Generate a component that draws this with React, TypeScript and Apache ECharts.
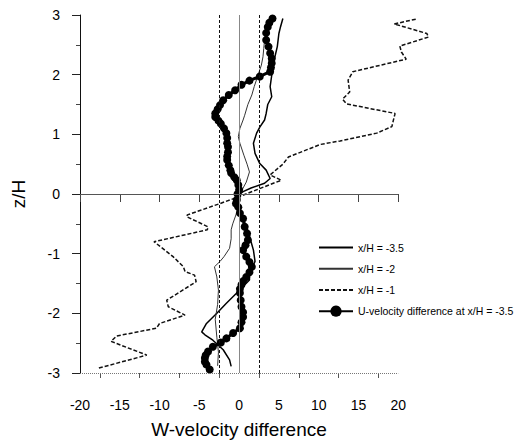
import React, { useEffect, useRef } from "react";
import * as echarts from "echarts";

// x/H = -3.5 (solid)
const zA = [2.94, 2.80, 2.69, 2.58, 2.47, 2.30, 2.15, 1.99, 1.80, 1.63, 1.50, 1.35, 1.24, 1.12, 1.02, 0.85, 0.68, 0.51, 0.40, 0.26, 0.18, 0.10, 0.04, -0.02, -0.10, -0.25, -0.45, -0.65, -0.80, -0.94, -1.13, -1.33, -1.44, -1.55, -1.66, -1.83, -2.00, -2.17, -2.31, -2.36, -2.45, -2.61, -2.78, -2.89];
const wA = [5.5, 5.2, 5.0, 4.9, 4.8, 4.5, 4.3, 4.1, 3.9, 4.1, 3.6, 3.4, 3.2, 2.6, 2.2, 1.8, 2.0, 2.6, 3.4, 3.9, 3.2, 1.5, 0.5, -0.1, -0.2, 0.0, 0.6, 1.2, 1.5, 1.8, 2.0, 1.3, 1.3, 0.5, -0.3, -1.6, -2.8, -4.1, -4.7, -4.3, -3.3, -2.0, -1.2, -1.0];

// x/H = -2 (thin solid)
const zB = [2.90, 2.72, 2.58, 2.44, 2.30, 2.16, 2.00, 1.80, 1.66, 1.50, 1.32, 1.24, 1.10, 0.96, 0.85, 0.65, 0.50, 0.37, 0.20, 0.05, -0.15, -0.35, -0.50, -0.60, -0.75, -0.91, -1.05, -1.13, -1.22, -1.39, -1.61, -1.85, -2.10, -2.40, -2.65, -2.88];
const wB = [3.8, 3.5, 3.2, 3.1, 3.0, 2.8, 2.4, 1.9, 1.6, 1.1, 0.7, 0.5, 0.1, -0.1, 0.1, 0.6, 1.0, 1.3, 0.9, 0.3, 0.0, -0.4, -0.8, -1.0, -1.0, -1.2, -1.9, -2.4, -3.1, -2.8, -2.6, -2.7, -3.0, -2.8, -2.6, -2.7];

// x/H = -1 (dashed)
const zC = [2.93, 2.85, 2.69, 2.63, 2.48, 2.38, 2.26, 2.05, 1.91, 1.71, 1.59, 1.51, 1.35, 1.13, 1.02, 0.89, 0.83, 0.62, 0.50, 0.32, 0.23, 0.18, -0.04, -0.16, -0.35, -0.38, -0.55, -0.60, -0.80, -0.83, -1.05, -1.22, -1.30, -1.36, -1.47, -1.78, -1.89, -2.03, -2.17, -2.25, -2.38, -2.47, -2.70, -2.92];
const wC = [22.2, 19.5, 23.6, 23.8, 20.2, 20.4, 21.0, 14.3, 13.7, 13.9, 13.0, 13.5, 19.6, 19.2, 17.3, 12.7, 10.2, 6.2, 5.5, 3.9, 5.3, 4.3, 0.1, -2.4, -6.5, -6.6, -3.9, -4.0, -10.7, -10.4, -8.3, -7.0, -6.8, -5.6, -5.4, -9.1, -8.9, -6.8, -10.0, -10.4, -15.4, -16.1, -11.6, -17.7];

// U-velocity difference at x/H = -3.5 (thick dotted)
const zU = [2.94, 2.87, 2.80, 2.70, 2.58, 2.47, 2.36, 2.27, 2.19, 2.12, 2.05, 1.97, 1.90, 1.83, 1.74, 1.66, 1.57, 1.49, 1.42, 1.35, 1.29, 1.23, 1.18, 1.10, 1.02, 0.94, 0.85, 0.79, 0.70, 0.63, 0.57, 0.48, 0.40, 0.35, 0.28, 0.23, 0.15, 0.07, 0.0, -0.10, -0.16, -0.22, -0.32, -0.41, -0.55, -0.66, -0.77, -0.86, -0.94, -1.05, -1.14, -1.22, -1.31, -1.39, -1.46, -1.52, -1.59, -1.66, -1.78, -1.89, -1.98, -2.06, -2.15, -2.25, -2.33, -2.42, -2.49, -2.56, -2.64, -2.70, -2.75, -2.81, -2.86, -2.94];
const wU = [4.2, 3.8, 3.6, 3.4, 3.4, 3.7, 3.9, 4.1, 4.1, 4.0, 3.9, 2.6, 1.3, 0.3, -0.5, -1.3, -2.0, -2.4, -2.7, -3.0, -3.0, -2.6, -2.3, -1.9, -1.6, -1.5, -1.5, -1.4, -1.4, -1.5, -1.5, -1.3, -1.1, -1.0, -0.6, -0.3, -0.1, 0.0, -0.2, -0.3, -0.4, -0.1, 0.1, 0.5, 0.7, 1.0, 1.1, 0.8, 0.5, 0.9, 1.3, 1.6, 1.3, 0.9, 0.5, 0.3, 0.1, 0.1, 0.2, 0.3, 0.5, 0.5, 0.3, 0.1, -0.75, -1.6, -2.3, -3.3, -3.9, -4.2, -4.3, -4.3, -4.1, -3.7];

const names = ["x/H = -3.5", "x/H = -2", "x/H = -1", "U-velocity difference at x/H = -3.5"];
const xMajorTicks = [-20, -15, -10, -5, 0, 5, 10, 15, 20];
const xMinorTicks = [-17.5, -12.5, -7.5, -2.5, 2.5, 7.5, 12.5, 17.5];
const xRange = { min: -20, max: 25 }; // room on the right for the x/H=-1 excursion past 20
const yTicks = { min: -3, max: 3, interval: 1 };
const refLinesX = [-2.5, 2.5];

const pairs = (w: number[], z: number[]) => w.map((v, i) => [v, z[i]]);

const FONT = "'Liberation Sans', Arial, sans-serif";

export default function App() {
  const ref = useRef<HTMLDivElement>(null);
  useEffect(() => {
    document.body.style.margin = "0";
    if (!ref.current) return;
    const chart = echarts.init(ref.current, undefined, { renderer: "svg" });
    const clear = "rgba(0,0,0,0)";
    const xFirst = xMajorTicks[0];
    const xLast = xMajorTicks[xMajorTicks.length - 1];
    chart.setOption({
      animation: false,
      backgroundColor: "#fff",
      textStyle: { fontFamily: FONT, color: "#000" },
      grid: { left: 80, right: 90, top: 15, bottom: 74 },
      legend: {
        data: names,
        orient: "vertical",
        left: 318,
        top: 242,
        itemWidth: 34,
        itemHeight: 14,
        itemGap: 10,
        padding: 0,
        textStyle: { fontSize: 10.5, color: "#000", fontFamily: FONT },
      },
      xAxis: [
        {
          type: "value",
          min: xRange.min,
          max: xRange.max,
          interval: 5,
          name: "W-velocity difference",
          nameLocation: "middle",
          nameGap: 47,
          nameTextStyle: { fontSize: 19, color: "#000", fontFamily: FONT, padding: [0, 40, 0, 0] },
          splitLine: { show: false },
          axisLine: { show: false },
          axisTick: { show: true, inside: false, length: 8, customValues: xMajorTicks, lineStyle: { color: "#444" } },
          axisLabel: { fontSize: 14, color: "#000", margin: 25, fontFamily: FONT, customValues: xMajorTicks },
        },
        {
          type: "value",
          min: xRange.min,
          max: xRange.max,
          interval: 5,
          position: "bottom",
          splitLine: { show: false },
          axisLine: { show: false },
          axisTick: { show: true, inside: false, length: 5, customValues: xMinorTicks, lineStyle: { color: "#555" } },
          axisLabel: { show: false },
        },
      ],
      yAxis: {
        type: "value",
        min: yTicks.min,
        max: yTicks.max,
        interval: yTicks.interval,
        name: "z/H",
        nameLocation: "middle",
        nameGap: 52,
        nameTextStyle: { fontSize: 19, color: "#000", fontFamily: FONT },
        splitLine: { show: false },
        axisLine: { show: true, onZero: false, lineStyle: { color: "#111", width: 1 } },
        axisTick: { show: true, inside: false, length: 8, lineStyle: { color: "#222" } },
        minorTick: { show: true, splitNumber: 2, length: 4, lineStyle: { color: "#444" } },
        axisLabel: { fontSize: 14, color: "#000", margin: 20, fontFamily: FONT },
      },
      series: [
        {
          name: names[0],
          type: "line",
          data: pairs(wA, zA),
          symbol: "none",
          itemStyle: { color: clear },
          lineStyle: { color: "#000", width: 1.5 },
          z: 3,
          markLine: {
            silent: true,
            symbol: ["none", "none"],
            label: { show: false },
            data: [
              { xAxis: 0, lineStyle: { color: "#888", width: 1, type: "solid" } },
              ...refLinesX.map((v) => ({ xAxis: v, lineStyle: { color: "#111", width: 1, type: [3, 2] } })),
              [
                { coord: [xFirst, 0], lineStyle: { color: "#555", width: 1, type: "solid" } },
                { coord: [xLast, 0] },
              ],
              [
                { coord: [xFirst, yTicks.min], lineStyle: { color: "#777", width: 1, type: [1, 1] } },
                { coord: [xLast, yTicks.min] },
              ],
            ],
          },
        },
        {
          name: names[1],
          type: "line",
          data: pairs(wB, zB),
          symbol: "none",
          itemStyle: { color: clear },
          lineStyle: { color: "#333", width: 1 },
          z: 3,
        },
        {
          name: names[2],
          type: "line",
          data: pairs(wC, zC),
          symbol: "none",
          itemStyle: { color: clear },
          lineStyle: { color: "#111", width: 1.5, type: [4, 2] },
          z: 3,
        },
        {
          name: names[3],
          type: "line",
          data: pairs(wU, zU),
          symbol: "circle",
          symbolSize: 8,
          showSymbol: true,
          itemStyle: { color: "#000" },
          lineStyle: { color: "#000", width: 3 },
          z: 4,
        },
      ],
    });
    return () => chart.dispose();
  }, []);
  return <div ref={ref} style={{ width: 528, height: 447 }} />;
}
